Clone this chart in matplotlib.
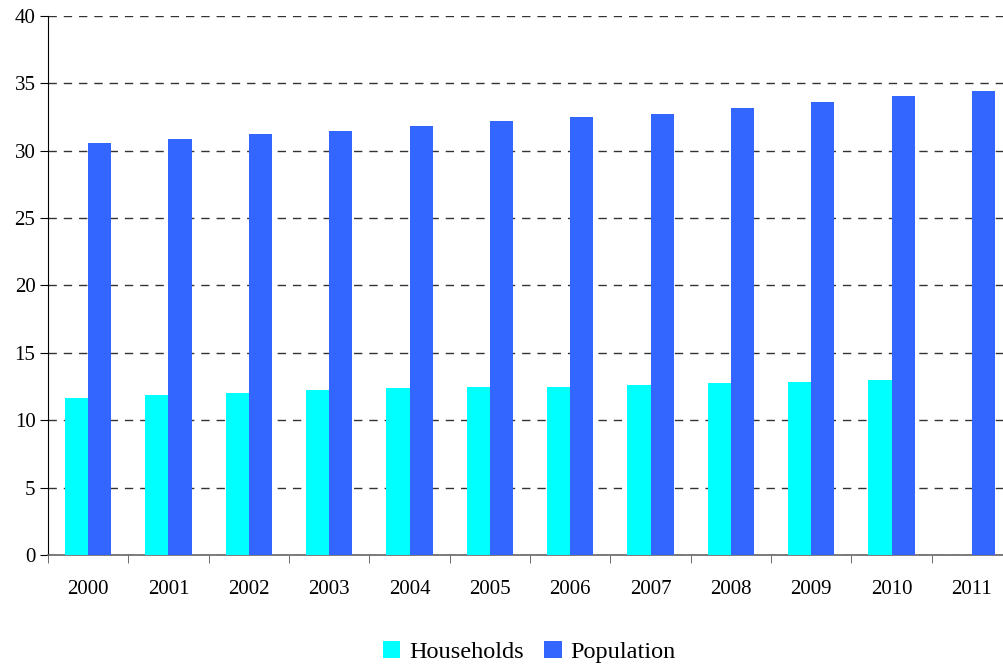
import numpy as np
import matplotlib
matplotlib.use("Agg")
import matplotlib.pyplot as plt

# Data
years = ["2000", "2001", "2002", "2003", "2004", "2005",
         "2006", "2007", "2008", "2009", "2010", "2011"]
households = [11.65, 11.87, 12.02, 12.24, 12.39, 12.47,
              12.47, 12.62, 12.76, 12.84, 12.99, np.nan]
population = [30.57, 30.87, 31.24, 31.47, 31.84, 32.2,
              32.5, 32.73, 33.17, 33.6, 34.06, 34.43]

plt.rcParams['font.family'] = ['Liberation Serif', 'DejaVu Serif']

fig = plt.figure(figsize=(10.04, 6.66), dpi=100)
ax = fig.add_axes([0.0478, 0.1667, 0.9602, 0.8093])

x = np.arange(len(years))
w = 0.29
ax.bar(x - w / 2, households, w, color='#00FFFF', label='Households', zorder=3)
ax.bar(x + w / 2, population, w, color='#3366FF', label='Population', zorder=3)

ax.set_xlim(-0.5, len(years) - 0.5)
ax.set_ylim(0, 40)
ax.set_yticks(range(0, 41, 5))
ax.yaxis.grid(True, linestyle=(0, (6, 5)), color='#333333', linewidth=1, zorder=0)

# category labels centred, ticks at the boundaries
ax.set_xticks(x)
ax.set_xticklabels(years, fontsize=15)
ax.set_xticks(np.arange(-0.5, len(years), 1), minor=True)
ax.tick_params(axis='x', which='major', length=0, pad=18)
ax.tick_params(axis='x', which='minor', length=6, color='#555555', direction='out')
ax.tick_params(axis='y', labelsize=15, length=6, direction='out', pad=3)

for s in ['top', 'right']:
    ax.spines[s].set_visible(False)
ax.spines['left'].set_color('black')
ax.spines['bottom'].set_color('#666666')
ax.spines['bottom'].set_linewidth(1.2)

fig.legend(loc='lower center', bbox_to_anchor=(0.527, -0.028), ncol=2, frameon=False,
           fontsize=17.5, handlelength=0.72, handleheight=0.72, handletextpad=0.35,
           columnspacing=0.85)

fig.savefig("out.png", dpi=100)
